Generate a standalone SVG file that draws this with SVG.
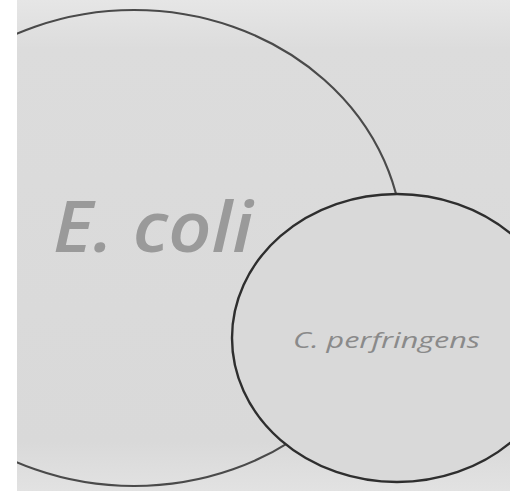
<svg xmlns="http://www.w3.org/2000/svg" width="523" height="491" viewBox="0 0 523 491">
  <style>
    .label { font-family: "Open Sans", "DejaVu Sans", sans-serif; font-style: italic; }
    .big { fill: none; stroke: #4a4a4a; stroke-width: 2.2; }
    .small { fill: #d9d9d9; stroke: #2e2e2e; stroke-width: 2.4; }
  </style>
  <defs>
    <clipPath id="page">
      <rect x="17" y="0" width="493" height="491"/>
    </clipPath>
    <linearGradient id="bg" x1="0" y1="0" x2="0" y2="1">
      <stop offset="0" stop-color="#e6e6e6"/>
      <stop offset="0.1" stop-color="#dcdcdc"/>
      <stop offset="0.9" stop-color="#d9d9d9"/>
      <stop offset="1" stop-color="#e2e2e2"/>
    </linearGradient>
  </defs>
  <rect x="0" y="0" width="523" height="491" fill="#ffffff"/>
  <rect x="17" y="0" width="493" height="491" fill="url(#bg)"/>
  <g clip-path="url(#page)">
    <g id="ecoli">
      <ellipse class="big" cx="134" cy="248" rx="269" ry="238"/>
      <text class="label" x="53" y="252" font-size="70" font-weight="600" fill="#9a9a9a" textLength="200" lengthAdjust="spacingAndGlyphs">E. coli</text>
    </g>
    <g id="cperfringens">
      <ellipse class="small" cx="397" cy="338" rx="165" ry="144"/>
      <text class="label" x="293" y="348" font-size="21" fill="#8a8a8a" textLength="187" lengthAdjust="spacingAndGlyphs">C. perfringens</text>
    </g>
    <g id="connectors"/>
  </g>
</svg>
